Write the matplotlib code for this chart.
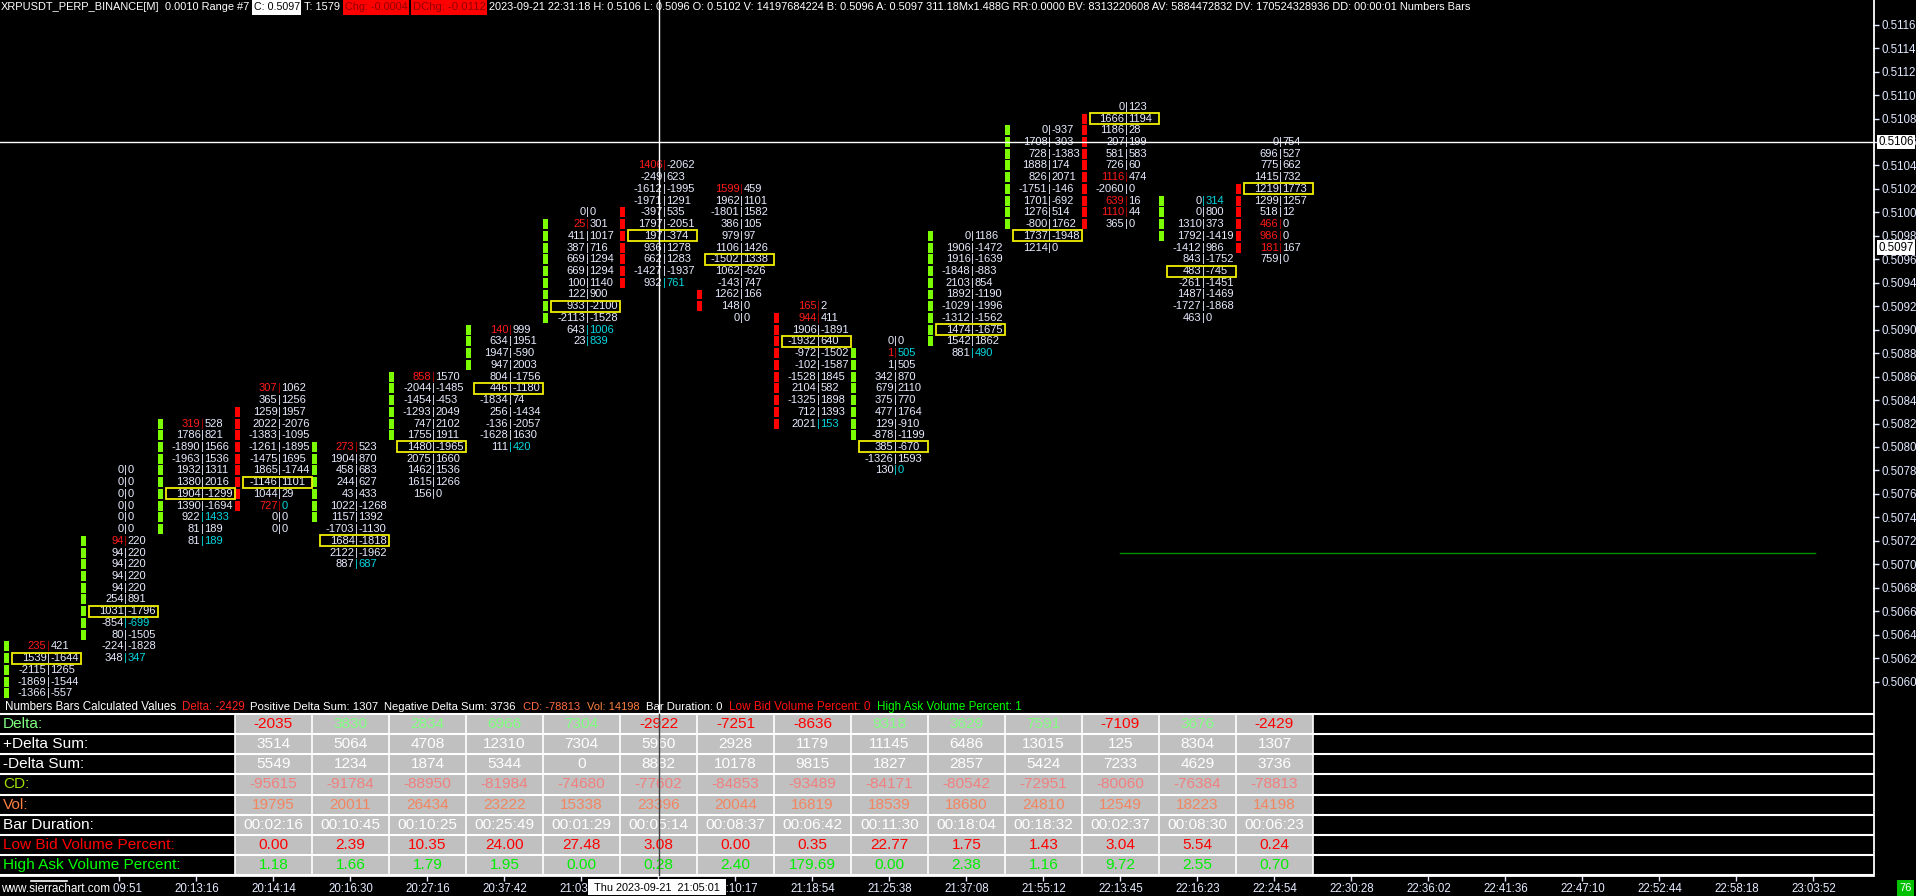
import matplotlib
matplotlib.use("Agg")
import matplotlib.pyplot as plt
from matplotlib.patches import Rectangle
from matplotlib.lines import Line2D
from matplotlib import font_manager as fm

# ---------------- data ----------------
TICK = 0.0001
bar_low = [0.5059, 0.5062, 0.5072, 0.5073, 0.5070, 0.5076, 0.5080, 0.5089, 0.5094,
           0.5091, 0.5082, 0.5078, 0.5088, 0.5097, 0.5099, 0.5091, 0.5096]
bar_open = [0.5059, 0.5064, 0.5073, 0.5083, 0.5074, 0.5081, 0.5087, 0.5091, 0.5100,
            0.5093, 0.5091, 0.5081, 0.5089, 0.5099, 0.5108, 0.5098, 0.5102]
bar_close = [0.5063, 0.5072, 0.5082, 0.5075, 0.5080, 0.5086, 0.5090, 0.5099, 0.5094,
             0.5092, 0.5082, 0.5088, 0.5098, 0.5107, 0.5099, 0.5101, 0.5097]

bid_vals = [
    [235, 1539, -2115, -1869, -1366],
    [0, 0, 0, 0, 0, 0, 94, 94, 94, 94, 94, 254, 1031, -854, 80, -224, 348],
    [319, 1786, -1890, -1963, 1932, 1380, 1904, 1390, 922, 81, 81],
    [307, 365, 1259, 2022, -1383, -1261, -1475, 1865, -1146, 1044, 727, 0, 0],
    [273, 1904, 458, 244, 43, 1022, 1157, -1703, 1684, 2122, 887],
    [858, -2044, -1454, -1293, 747, 1755, 1480, 2075, 1462, 1615, 156],
    [140, 634, 1947, 947, 804, 446, -1834, 256, -136, -1628, 111],
    [0, 25, 411, 387, 669, 669, 100, 122, 933, -2113, 643, 23],
    [1406, -249, -1612, -1971, -397, 1797, 197, 936, 662, -1427, 932],
    [1599, 1962, -1801, 386, 979, 1106, -1502, 1062, -143, 1262, 148, 0],
    [165, 944, 1906, -1932, -972, -102, -1528, 2104, -1325, 712, 2021],
    [0, 1, 1, 342, 679, 375, 477, 129, -878, 385, -1326, 130],
    [0, 1906, 1916, -1848, 2103, 1892, -1029, -1312, 1474, 1542, 881],
    [0, 1708, 728, 1888, 826, -1751, 1701, 1276, -800, 1737, 1214],
    [0, 1666, 1186, 207, 581, 726, 1116, -2060, 639, 1110, 365],
    [0, 0, 1310, 1792, -1412, 843, 483, -261, 1487, -1727, 463],
    [0, 696, 775, 1415, 1219, 1299, 518, 466, 986, 181, 759],
]
ask_vals = [
    [421, -1644, 1265, -1544, -557],
    [0, 0, 0, 0, 0, 0, 220, 220, 220, 220, 220, 891, -1796, -699, -1505, -1828, 347],
    [528, 821, 1566, 1536, 1311, 2016, -1299, -1694, 1433, 189, 189],
    [1062, 1256, 1957, -2076, -1095, -1895, 1695, -1744, 1101, 29, 0, 0, 0],
    [523, 870, 683, 627, 433, -1268, 1392, -1130, -1818, -1962, 687],
    [1570, -1485, -453, 2049, 2102, 1911, -1965, 1660, 1536, 1266, 0],
    [999, 1951, -590, 2003, -1756, -1180, 74, -1434, -2057, 1630, 420],
    [0, 301, 1017, 716, 1294, 1294, 1140, 900, -2100, -1528, 1006, 839],
    [-2062, 623, -1995, 1291, 535, -2051, -374, 1278, 1283, -1937, 761],
    [459, 1101, 1582, 105, 97, 1426, 1338, -626, 747, 166, 0, 0],
    [2, 411, -1891, 640, -1502, -1587, 1845, 582, 1898, 1393, 153],
    [0, 505, 505, 870, 2110, 770, 1764, -910, -1199, -670, 1593, 0],
    [1186, -1472, -1639, -883, 854, -1190, -1996, -1562, -1675, 1862, 490],
    [-937, -303, -1383, 174, 2071, -146, -692, 514, 1762, -1948, 0],
    [123, 1194, 28, 199, 583, 60, 474, 0, 16, 44, 0],
    [314, 800, 373, -1419, 986, -1752, -745, -1451, -1469, -1868, 0],
    [754, 527, 662, 732, 1773, 1257, 12, 0, 0, 167, 0],
]
box_rows = [1, 12, 6, 8, 8, 6, 5, 8, 6, 6, 3, 9, 8, 9, 1, 6, 4]
red_bid_rows = [[0], [6], [0], [0, 10], [0], [0], [0], [1], [0], [0], [0, 1], [1],
                [], [], [6, 8, 9], [], [7, 8, 9]]
cyan_ask_rows = [[], [13, 16], [8, 10], [10], [10], [], [10], [10, 11], [10], [],
                 [10], [1, 11], [10], [], [], [0], []]

time_labels = ["20:09:51", "20:13:16", "20:14:14", "20:16:30", "20:27:16", "20:37:42",
               "21:03:35", "21:05:01", "21:10:17", "21:18:54", "21:25:38", "21:37:08",
               "21:55:12", "22:13:45", "22:16:23", "22:24:54", "22:30:28", "22:36:02",
               "22:41:36", "22:47:10", "22:52:44", "22:58:18", "23:03:52"]
FIRST_LABEL_BAR = 1

price_ticks = [round(0.5060 + 0.0002 * k, 4) for k in range(29)]
last_price = 0.5097
cursor_price = 0.5106
cursor_bar = 8
green_level = 0.5071
green_x = [14.5, 23.52]

table_first_bar = 3
row_labels = ["Delta:", "+Delta Sum:", "-Delta Sum:", "CD:", "Vol:", "Bar Duration:",
              "Low Bid Volume Percent:", "High Ask Volume Percent:"]
delta = [-2035, 3830, 2834, 6966, 7304, -2922, -7251, -8636, 9318, 3629, 7591, -7109, 3676, -2429]
pos_delta_sum = [3514, 5064, 4708, 12310, 7304, 5960, 2928, 1179, 11145, 6486, 13015, 125, 8304, 1307]
neg_delta_sum = [5549, 1234, 1874, 5344, 0, 8882, 10178, 9815, 1827, 2857, 5424, 7233, 4629, 3736]
cum_delta = [-95615, -91784, -88950, -81984, -74680, -77602, -84853, -93489, -84171, -80542,
             -72951, -80060, -76384, -78813]
volume = [19795, 20011, 26434, 23222, 15338, 23396, 20044, 16819, 18539, 18680, 24810, 12549,
          18223, 14198]
bar_duration = ["00:02:16", "00:10:45", "00:10:25", "00:25:49", "00:01:29", "00:05:14",
                "00:08:37", "00:06:42", "00:11:30", "00:18:04", "00:18:32", "00:02:37",
                "00:08:30", "00:06:23"]
low_bid_pct = [0.00, 2.39, 10.35, 24.00, 27.48, 3.08, 0.00, 0.35, 22.77, 1.75, 1.43, 3.04, 5.54, 0.24]
high_ask_pct = [1.18, 1.66, 1.79, 1.95, 0.00, 0.28, 2.40, 179.69, 0.00, 2.38, 1.16, 9.72, 2.55, 0.70]

header_name = "XRPUSDT_PERP_BINANCE[M]"
header_range = "0.0010 Range #7"
header_close = "C: 0.5097"
header_trades = "T: 1579"
header_chg = "Chg: -0.0004"
header_dchg = "DChg: -0.0112"
header_rest = ("2023-09-21 22:31:18 H: 0.5106 L: 0.5096 O: 0.5102 V: 14197684224 B: 0.5096 "
               "A: 0.5097 311.18Mx1.488G RR:0.0000 BV: 8313220608 AV: 5884472832 "
               "DV: 170524328936 DD: 00:00:01 Numbers Bars")
calc_title = "Numbers Bars Calculated Values"
calc_items = ["Delta: -2429", "Positive Delta Sum: 1307", "Negative Delta Sum: 3736",
              "CD: -78813", "Vol: 14198", "Bar Duration: 0", "Low Bid Volume Percent: 0",
              "High Ask Volume Percent: 1"]
cursor_time = "Thu 2023-09-21  21:05:01"
site_text = "www.sierrachart.com"
corner_text = "76"

# ---------------- style / layout ----------------
W, H, DPI = 1916, 896, 100
_names = {f.name for f in fm.fontManager.ttflist}
BASE = "Liberation Sans" if "Liberation Sans" in _names else "DejaVu Sans"
NARROW = "Liberation Sans Narrow" in _names
NUM_FONT = "Liberation Sans Narrow" if NARROW else BASE
NUM_SIZE = 9.0 if NARROW else 8.0

NUMW = "#E8ECFF"
RED_T = "#FF1A1A"
DARKRED = "#B00000"
CYAN = "#00D8E0"
GREEN_M = "#7CFC00"
RED_M = "#FF0000"
YELLOW = "#F0F000"

SLOT = 77.0        # px per bar
X0 = 4.0           # px of bar 0 marker
AX_RIGHT = 1873.0  # px of price scale line
PX_PER_TICK = 11.73
Y_REF = 142.0      # px of cursor price
P_TOP_PX, P_BOT_PX = 14.0, 712.0
T_TOP_PX, T_BOT_PX = 714.0, 875.0
SEP = 44.3 / SLOT

fig = plt.figure(figsize=(W / DPI, H / DPI), dpi=DPI, facecolor="black")
renderer = fig.canvas.get_renderer()


def fx(px):
    return px / W


def fy(py):
    return 1 - py / H


def ftext(x_px, y_px, s, color, size=8, width=None, ha="left", family=None, z=20):
    t = fig.text(fx(x_px), fy(y_px), s, color=color, fontsize=size, ha=ha, va="center",
                 family=family or BASE, zorder=z)
    if width:
        bb = t.get_window_extent(renderer)
        t.set_fontsize(size * width / bb.width)
    return t


def frect(x0, y0, x1, y1, color, z=15):
    fig.add_artist(Rectangle((fx(x0), fy(y1)), (x1 - x0) / W, (y1 - y0) / H,
                             transform=fig.transFigure, facecolor=color, edgecolor="none",
                             zorder=z))


def fline(xs, ys, color, lw=1.0, z=30):
    fig.add_artist(Line2D([fx(v) for v in xs], [fy(v) for v in ys], color=color, lw=lw,
                          transform=fig.transFigure, zorder=z))


# ---------------- price axes ----------------
ax = fig.add_axes([0, fy(P_BOT_PX), fx(AX_RIGHT), (P_BOT_PX - P_TOP_PX) / H])
ax.set_facecolor("black")
ax.set_xlim(-X0 / SLOT, (AX_RIGHT - X0) / SLOT)
ax.set_ylim(cursor_price - (P_BOT_PX - Y_REF) / PX_PER_TICK * TICK,
            cursor_price + (Y_REF - P_TOP_PX) / PX_PER_TICK * TICK)
for s in ax.spines.values():
    s.set_visible(False)
ax.set_xticks([])
ax.yaxis.tick_right()
ax.set_yticks(price_ticks)
ax.set_yticklabels([f"{p:.4f}" for p in price_ticks])
ax.tick_params(axis="y", colors="#E0E8FF", length=4, width=1, pad=2, labelsize=8.3)
for lab in ax.get_yticklabels():
    lab.set_family(BASE)

n_bars = len(bid_vals)
for i in range(n_bars):
    lo, hi = sorted((bar_open[i], bar_close[i]))
    n = int(round((hi - lo) / TICK)) + 1
    col = GREEN_M if bar_close[i] >= bar_open[i] else RED_M
    ps = [lo + k * TICK for k in range(n)]
    ax.bar([i] * n, [0.85 * TICK] * n, bottom=[p - 0.425 * TICK for p in ps],
           width=4.6 / SLOT, align="edge", color=col, linewidth=0, zorder=2)

    nrows = len(bid_vals[i])
    top = bar_low[i] + (nrows - 1) * TICK
    for r in range(nrows):
        p = top - r * TICK
        is_red = r in red_bid_rows[i]
        is_cyan = r in cyan_ask_rows[i]
        bc = RED_T if is_red else NUMW
        ac = CYAN if is_cyan else NUMW
        sc = DARKRED if is_red else (CYAN if is_cyan else NUMW)
        kw = dict(va="center", fontsize=NUM_SIZE, family=NUM_FONT, zorder=4)
        ax.text(i + SEP - 1.8 / SLOT, p, str(bid_vals[i][r]), ha="right", color=bc, **kw)
        ax.text(i + SEP, p, "|", ha="center", color=sc, **kw)
        ax.text(i + SEP + 2.0 / SLOT, p, str(ask_vals[i][r]), ha="left", color=ac, **kw)
    pb = top - box_rows[i] * TICK
    ax.add_patch(Rectangle((i + SEP - 36 / SLOT, pb - 0.47 * TICK), 69 / SLOT, 0.94 * TICK,
                           fill=False, edgecolor=YELLOW, lw=1.3, zorder=5))

ax.plot(green_x, [green_level] * 2, color="#009000", lw=1, zorder=3)
ax.axhline(cursor_price, color="white", lw=1, zorder=6)

yt = ax.get_yaxis_transform()
for p in (cursor_price, last_price):
    ax.text(1 + 5.5 / AX_RIGHT, p, f"{p:.4f}", transform=yt, ha="left", va="center",
            color="black", fontsize=8.3, family=BASE, clip_on=False, zorder=10,
            bbox=dict(boxstyle="square,pad=0.12", fc="white", ec="none"))

# ---------------- table ----------------
tax = fig.add_axes([0, fy(T_BOT_PX), fx(AX_RIGHT), (T_BOT_PX - T_TOP_PX) / H])
tax.set_facecolor("black")
tax.set_xlim(ax.get_xlim())
tax.set_ylim(8, 0)
for s in tax.spines.values():
    s.set_visible(False)
tax.set_yticks([])
n_cols = len(delta)
tax.add_patch(Rectangle((table_first_bar, 0), n_cols, 8, facecolor="#C0C0C0",
                        edgecolor="none", zorder=1))
for r in range(9):
    tax.plot(tax.get_xlim(), [r, r], color="white", lw=1.5, zorder=3, clip_on=False)
for c in range(table_first_bar, table_first_bar + n_cols + 1):
    tax.plot([c, c], [0, 8], color="white", lw=1.2, zorder=3)

label_colors = ["#80FF80", "#FFFFFF", "#FFFFFF", "#A0E000", "#FF8040", "#FFFFFF",
                "#FF0000", "#00FF00"]
lab_objs = []
for r, (lab, c) in enumerate(zip(row_labels, label_colors)):
    lab_objs.append(tax.text(-1 / SLOT, r + 0.5, lab, ha="left", va="center", color=c,
                             fontsize=11, family=BASE, zorder=4))
bb = lab_objs[6].get_window_extent(renderer)
TSIZE = 11 * 172 / bb.width
for t in lab_objs:
    t.set_fontsize(TSIZE)

table_rows = [
    ([str(v) for v in delta], ["#80FF80" if v >= 0 else "#FF0000" for v in delta]),
    ([str(v) for v in pos_delta_sum], ["#FFFFFF"] * n_cols),
    ([str(v) for v in neg_delta_sum], ["#FFFFFF"] * n_cols),
    ([str(v) for v in cum_delta], ["#F08080"] * n_cols),
    ([str(v) for v in volume], ["#F28560"] * n_cols),
    (bar_duration, ["#FFFFFF"] * n_cols),
    ([f"{v:.2f}" for v in low_bid_pct], ["#FF0000"] * n_cols),
    ([f"{v:.2f}" for v in high_ask_pct], ["#00EE00"] * n_cols),
]
for r, (vals, cols) in enumerate(table_rows):
    for k, (v, c) in enumerate(zip(vals, cols)):
        tax.text(table_first_bar + k + 0.5, r + 0.5, v, ha="center", va="center", color=c,
                 fontsize=TSIZE, family=BASE, zorder=4)

tick_pos = [FIRST_LABEL_BAR + k + 0.5 for k in range(len(time_labels))]
tax.set_xticks(tick_pos)
tax.set_xticklabels(time_labels)
tax.tick_params(axis="x", colors="#E6ECFF", length=4, width=1, pad=2, labelsize=8.3)
for lab in tax.get_xticklabels():
    lab.set_family(BASE)

# ---------------- frame, cursor, header ----------------
fline([AX_RIGHT + 0.5, AX_RIGHT + 0.5], [0, T_BOT_PX + 1], "white", lw=1.3)
fline([0, AX_RIGHT], [T_BOT_PX + 0.5, T_BOT_PX + 0.5], "white", lw=1.3)
cx = X0 + SLOT * (cursor_bar + 0.5)
fline([cx, cx], [0, T_TOP_PX], "white", lw=1.0)
fline([cx, cx], [T_TOP_PX, T_BOT_PX], "#404040", lw=1.0)

# cursor time label and site text
frect(588, 879, 726, 895, "white", z=40)
ftext(657, 887.5, cursor_time, "black", width=126, ha="center", z=41)
frect(0, 881, 113, 896, "black", z=40)
ftext(1, 888.5, site_text, "white", width=110, z=41)
fline([31, 67], [880.5, 880.5], "white", lw=1.2, z=41)
frect(1897, 880, 1914, 896, "#00C000", z=40)
ftext(1905.5, 888, corner_text, "white", size=8, ha="center", z=41)

# header
ftext(1, 7.5, header_name, "white", width=159)
ftext(165, 7.5, header_range, "white", width=85)
frect(252, 0, 301, 15, "white")
ftext(254, 7.5, header_close, "black", width=46)
ftext(304, 7.5, header_trades, "white", width=36)
frect(343, 0, 409, 15, "#FF0000")
ftext(345, 7.5, header_chg, "#900000", width=63)
frect(411, 0, 487, 15, "#FF0000")
ftext(413, 7.5, header_dchg, "#900000", width=73)
ftext(489, 7.5, header_rest, "white", width=981)

# calculated values line
ftext(5, 707, calc_title, "white", width=171)
calc_pos = [(182, 63), (250, 128), (384, 133), (523, 57), (587, 53), (646, 77), (729, 142),
            (877, 145)]
calc_cols = ["#FF2020", "white", "white", "#FF6A40", "#FF8040", "white", "#FF1010", "#00FF00"]
for s, (x0, w), c in zip(calc_items, calc_pos, calc_cols):
    ftext(x0, 707, s, c, width=w)

fig.savefig("out.png", dpi=DPI, facecolor="black")
